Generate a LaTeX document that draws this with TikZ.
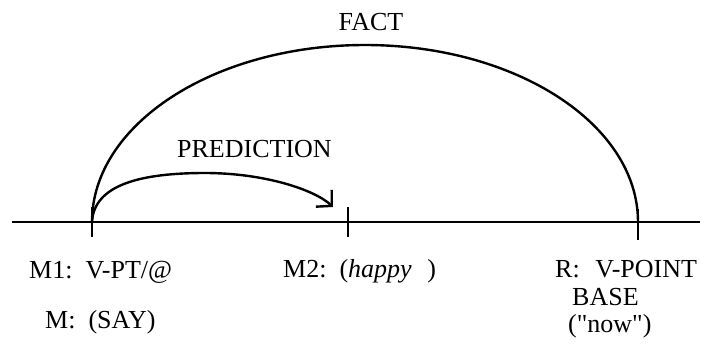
\documentclass[tikz,border=0pt]{standalone}
\usepackage{fontspec}
\setmainfont{Liberation Serif}
\newfontfamily\plainserif{Liberation Serif}
\usetikzlibrary{arrows.meta,calc}
\begin{document}
\begin{tikzpicture}[x=1pt,y=-1pt,
  lbl/.style={inner sep=0pt,anchor=base west,font=\fontsize{26}{30}\selectfont},
  axis/.style={line width=2.4pt},
  arc/.style={line width=2.4pt},
  tick/.style={line width=2.4pt}]
\useasboundingbox (0,0) rectangle (707,349);
% axis points
\coordinate (L) at (12,222);
\coordinate (R) at (700,222);
\coordinate (t1) at (92,222);
\coordinate (t2) at (348,222);
\coordinate (t3) at (638,222);
\draw[axis] (L) -- (R);
\draw[tick] ($(t1)+(0,-15)$) -- ($(t1)+(0,15)$);
\draw[tick] ($(t2)+(0,-15)$) -- ($(t2)+(0,15)$);
\draw[tick] ($(t3)+(0,-13)$) -- ($(t3)+(0,18)$);
% FACT arc
\draw[arc] (t1) arc[start angle=180,end angle=0,x radius=273,y radius=-177];
% PREDICTION arc
\coordinate (pend) at (333,207);
\draw[arc,-{Straight Barb[length=11pt,width=23pt]}] (t1) .. controls (94,185) and (140,173) .. (205,173)
  .. controls (265,173) and (315,190) .. (pend);
% labels
\node[lbl,anchor=base] (fact) at (371,30) {FACT};
\node[lbl] (pred) at (177,157) {PREDICTION};
\node[lbl] (m1) at (29,278) {M1:\hspace{0.5em}V-PT/@};
\node[lbl] (m) at (45,328) {M:\hspace{0.5em}(SAY)};
\node[lbl] (m2) at (283,277) {M2:\hspace{0.5em}(\textit{happy}\hspace{0.6em})};
\node[lbl] (r) at (555,277) {R:\hspace{0.6em}V-POINT};
\node[lbl] (base) at (572,305) {BASE};
\node[lbl] (now) at (568,332) {\plainserif ("now")};
\end{tikzpicture}
\end{document}
